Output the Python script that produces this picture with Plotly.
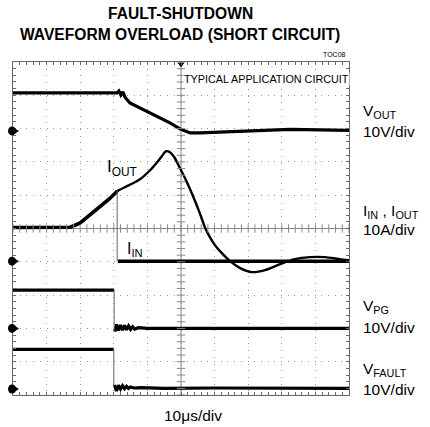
import numpy as np
import plotly.graph_objects as go

# ---------------- data (time in µs, 10 µs/div) ----------------
# V_OUT (V), 10 V/div
t_vout = [0, 30.95, 31.5, 32.1, 32.7, 33.3, 34.8, 37.8, 40.8, 43.75, 46.7, 49.7, 51.2, 52.7, 55.7, 64.6, 73.5, 82.4, 91.4, 100]
v_vout = [11.4, 11.4, 12.0, 10.8, 11.7, 10.2, 8.4, 6.9, 5.4, 3.9, 2.4, 0.6, 0.0, -0.6, -0.6, -0.3, 0.0, 0.45, 0.3, 0.15]

# I_OUT (A), 10 A/div
t_iout = [0, 14.0, 17.0, 19.9, 22.9, 25.9, 28.9, 31.0, 33.3, 35.7, 37.8, 40.8, 42.9, 44.3, 45.5, 46.7, 48.2, 49.7, 51.2,
          52.7, 54.2, 55.7, 57.1, 58.6, 60.1, 61.6, 64.6, 67.6, 71.1, 75.0, 79.5, 83.9, 88.4, 92.9, 97.3, 100]
v_iout = [10.1, 10.1, 10.2, 11.4, 13.8, 16.2, 18.9, 21.0, 22.2, 23.4, 24.6, 27.3, 29.7, 31.5, 33.0, 32.7, 30.9, 27.9, 24.9,
          21.6, 18.0, 14.1, 10.2, 7.2, 4.8, 3.0, 0.0, -2.1, -3.3, -2.7, -0.9, 0.6, 1.2, 1.2, 0.6, 0.3]

# I_IN (A): follows I_OUT until the fault, then drops to zero
t_iin_pre = [0, 14.0, 17.0, 19.9, 22.9, 25.9, 28.9, 31.0]
v_iin_pre = [10.1, 10.1, 10.2, 11.4, 13.8, 16.2, 18.9, 21.0]
t_iin_post = [31.2, 60, 80, 90, 100]
v_iin_post = [0.0, 0.0, 0.0, 0.2, 0.0]

# V_PG (V), 10 V/div
t_pg_pre = [0, 30.1]
v_pg_pre = [11.5, 11.5]
t_pg_post = [30.3, 30.8, 31.4, 32.0, 32.6, 33.2, 33.8, 34.4, 35.0, 35.6, 36.2, 37.4, 40, 60, 80, 100]
v_pg_post = [-1.0, 1.2, -0.6, 1.0, -0.5, 0.9, -0.4, 0.7, -0.3, 0.5, -0.2, 0.2, 0.0, 0.1, 0.0, 0.0]

# V_FAULT (V), 10 V/div
t_flt_pre = [0, 30.0]
v_flt_pre = [11.9, 11.9]
t_flt_post = [30.2, 30.8, 31.4, 32.0, 32.6, 33.2, 33.8, 34.4, 35.0, 36.0, 38.0, 45, 60, 80, 100]
v_flt_post = [1.2, -0.6, 1.1, 0.0, 1.0, 0.1, 0.8, 0.2, 0.6, 0.3, 0.4, 0.2, 0.3, 0.2, 0.2]

# channel zero offsets (divisions from bottom) and scale (units/div)
offsets = {"vout": 7.93, "i": 4.02, "pg": 2.0, "flt": 0.18}
SCALE = 10.0

def yd(vals, ch):
    return [offsets[ch] + v / SCALE for v in vals]

fig = go.Figure()

thick = dict(color="black", width=3.2)
fig.add_trace(go.Scatter(x=t_vout, y=yd(v_vout, "vout"), mode="lines", line=thick))
fig.add_trace(go.Scatter(x=t_iin_pre, y=yd(v_iin_pre, "i"), mode="lines", line=dict(color="black", width=3.5)))
fig.add_trace(go.Scatter(x=t_iout, y=yd(v_iout, "i"), mode="lines", line=dict(color="black", width=2.4, shape="spline", smoothing=0.6)))
fig.add_trace(go.Scatter(x=t_iin_post, y=yd(v_iin_post, "i"), mode="lines", line=dict(color="black", width=3.5)))
fig.add_trace(go.Scatter(x=t_pg_pre, y=yd(v_pg_pre, "pg"), mode="lines", line=thick))
fig.add_trace(go.Scatter(x=t_pg_post, y=yd(v_pg_post, "pg"), mode="lines", line=thick))
fig.add_trace(go.Scatter(x=t_flt_pre, y=yd(v_flt_pre, "flt"), mode="lines", line=thick))
fig.add_trace(go.Scatter(x=t_flt_post, y=yd(v_flt_post, "flt"), mode="lines", line=thick))

# fast edges (thin)
edge = dict(color="#666", width=1)
for tp, vp, tq, vq, ch in [(t_iin_pre, v_iin_pre, t_iin_post, v_iin_post, "i"),
                           (t_pg_pre, v_pg_pre, t_pg_post, v_pg_post, "pg"),
                           (t_flt_pre, v_flt_pre, t_flt_post, v_flt_post, "flt")]:
    fig.add_trace(go.Scatter(x=[tp[-1], tp[-1]], y=yd([vp[-1], vq[0]], ch), mode="lines", line=edge))

# centre graticule lines with ticks
fig.add_shape(type="line", x0=50, x1=50, y0=0, y1=10, xref="x", yref="y", line=dict(color="#888", width=1), layer="below")
fig.add_shape(type="line", x0=0, x1=100, y0=5, y1=5, xref="x", yref="y", line=dict(color="#888", width=1), layer="below")
tx = np.arange(0, 100.01, 2)
ty = np.arange(0, 10.01, 0.2)
fig.add_trace(go.Scatter(x=tx, y=[5] * len(tx), mode="markers",
                         marker=dict(symbol="line-ns", size=6, line=dict(color="#888", width=1))))
fig.add_trace(go.Scatter(x=[50] * len(ty), y=ty, mode="markers",
                         marker=dict(symbol="line-ew", size=6, line=dict(color="#888", width=1))))

# trigger marker
fig.add_trace(go.Scatter(x=[50], y=[9.93], mode="markers", cliponaxis=False,
                         marker=dict(symbol="triangle-down", size=6, color="black")))

axis_common = dict(showline=True, linecolor="#666", linewidth=1, mirror="allticks",
                   ticks="inside", ticklen=3, tickcolor="#666", showticklabels=False,
                   showgrid=True, gridcolor="#999", griddash="1px,5.7px", gridwidth=1,
                   zeroline=False, fixedrange=True)
fig.update_xaxes(range=[0, 100], dtick=10, tick0=0,
                 minor=dict(dtick=2, ticks="inside", ticklen=3, tickcolor="#666"), **axis_common)
fig.update_yaxes(range=[0, 10], dtick=1, tick0=0,
                 minor=dict(dtick=0.2, ticks="inside", ticklen=3, tickcolor="#666"), **axis_common)

L, R, T, B = 13, 349, 62, 395
def px(x):
    return (x - L) / (R - L)
def py(y):
    return (B - y) / (B - T)

# channel ground markers (blob + arrow at the left edge)
for ch in ["vout", "i", "pg", "flt"]:
    yc = offsets[ch] / 10.0
    fig.add_shape(type="circle", xref="paper", yref="paper",
                  x0=px(8), x1=px(16), y0=yc - 4.5 / 333, y1=yc + 4.5 / 333,
                  fillcolor="black", line=dict(color="black", width=0), layer="above")
    fig.add_shape(type="path", xref="paper", yref="paper",
                  path="M %f %f L %f %f L %f %f Z" % (px(15), yc + 2.5 / 333, px(19), yc, px(15), yc - 2.5 / 333),
                  fillcolor="black", line=dict(color="black", width=0), layer="above")

FONT = "Liberation Sans, Arial"
ann = []
def A(text, x, y, size, xanchor="left", bold=False, bg=None):
    d = dict(text=("<b>%s</b>" % text) if bold else text, x=px(x), y=py(y), xref="paper", yref="paper",
             xanchor=xanchor, yanchor="middle", showarrow=False,
             font=dict(family=FONT, size=size, color="black"))
    if bg:
        d["bgcolor"] = bg
        d["borderpad"] = 0
    ann.append(d)

A("FAULT-SHUTDOWN", 180, 14, 15.6, "center", True)
A("WAVEFORM OVERLOAD (SHORT CIRCUIT)", 180, 35, 15.6, "center", True)
A("TOC08", 348, 55, 7, "right")
A("TYPICAL APPLICATION CIRCUIT", 183, 79, 10.8, "left", bg="white")
A("V<sub>OUT</sub>", 361, 111, 15.5)
A("10V/div", 361, 131, 15.5)
A("I<sub>OUT</sub>", 105, 168, 17)
A("I<sub>IN</sub>", 125, 249, 16)
A("I<sub>IN</sub> , I<sub>OUT</sub>", 361, 212, 15.5)
A("10A/div", 361, 229, 15.5)
A("V<sub>PG</sub>", 361, 306, 15.5)
A("10V/div", 361, 327, 15.5)
A("V<sub>FAULT</sub>", 361, 369, 15.5)
A("10V/div", 361, 389, 15.5)
A("10μs/div", 193, 415, 15.5, "center")

fig.update_layout(width=430, height=427, margin=dict(l=L, r=430 - R, t=T, b=427 - B),
                  plot_bgcolor="white", paper_bgcolor="white", showlegend=False,
                  annotations=ann)

fig.write_html("out.html", config={"displayModeBar": False},
               post_script="document.body.style.margin='0';")
